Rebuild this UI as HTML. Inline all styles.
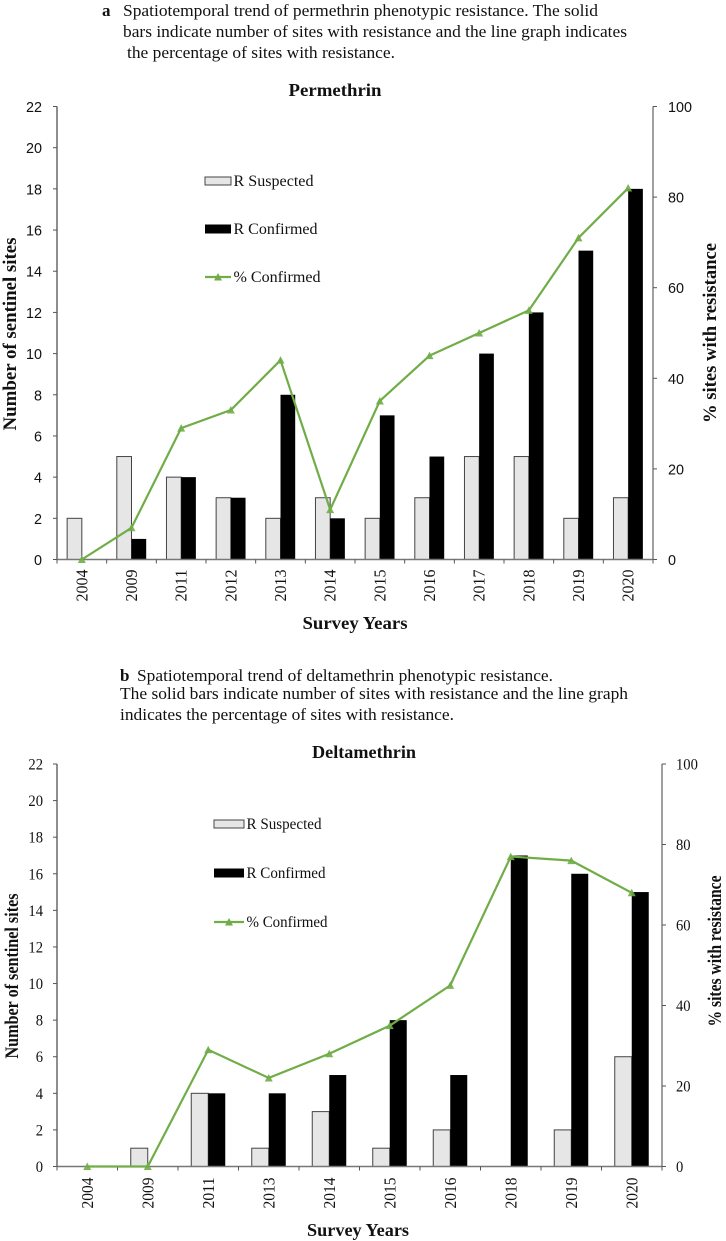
<!DOCTYPE html>
<html>
<head>
<meta charset="utf-8">
<title>Permethrin and deltamethrin resistance trends</title>
<style>
html,body{margin:0;padding:0;background:#fff;}
svg{display:block;}
text{fill:#111;}
.cap{font-family:"Liberation Serif",serif;font-size:17px;}
.capb{font-family:"Liberation Serif",serif;font-size:17px;font-weight:bold;}
</style>
</head>
<body>
<svg id="root" xmlns="http://www.w3.org/2000/svg" width="726" height="1241" viewBox="0 0 726 1241">
<g>
<text class="capb" x="102" y="16">a</text>
<text class="cap" x="123" y="16" textLength="475" lengthAdjust="spacingAndGlyphs">Spatiotemporal trend of permethrin phenotypic resistance. The solid</text>
<text class="cap" x="123" y="37" textLength="504" lengthAdjust="spacingAndGlyphs">bars indicate number of sites with resistance and the line graph indicates</text>
<text class="cap" x="127" y="58" textLength="268" lengthAdjust="spacingAndGlyphs">the percentage of sites with resistance.</text>
</g>
<g>
<text class="capb" x="120" y="681">b</text>
<text class="cap" x="137" y="681" textLength="416" lengthAdjust="spacingAndGlyphs">Spatiotemporal trend of deltamethrin phenotypic resistance.</text>
<text class="cap" x="120" y="699" textLength="508" lengthAdjust="spacingAndGlyphs">The solid bars indicate number of sites with resistance and the line graph</text>
<text class="cap" x="120" y="720" textLength="334" lengthAdjust="spacingAndGlyphs">indicates the percentage of sites with resistance.</text>
</g>
</svg>
<script>
var yearsA = ["2004","2009","2011","2012","2013","2014","2015","2016","2017","2018","2019","2020"];
var suspectedA = [2,5,4,3,2,3,2,3,5,5,2,3];
var confirmedA = [0,1,4,3,8,2,7,5,10,12,15,18];
var percentA = [0,7,29,33,44,11,35,45,50,55,71,82];

var yearsB = ["2004","2009","2011","2013","2014","2015","2016","2018","2019","2020"];
var suspectedB = [0,1,4,1,3,1,2,0,2,6];
var confirmedB = [0,0,4,4,5,8,5,17,16,15];
var percentB = [0,0,29,22,28,35,45,77,76,68];

var leftTicks = [0,2,4,6,8,10,12,14,16,18,20,22];
var rightTicks = [0,20,40,60,80,100];

var NS = "http://www.w3.org/2000/svg";
var root = document.getElementById("root");
var SERIF = '"Liberation Serif",serif';
var SANS = '"Liberation Sans",sans-serif';

function make(parent, tag, attrs, txt) {
  var e = document.createElementNS(NS, tag);
  for (var k in attrs) e.setAttribute(k, attrs[k]);
  if (txt !== undefined) e.textContent = txt;
  parent.appendChild(e);
  return e;
}

function drawChart(c, years, suspected, confirmed, percent) {
  var g = make(root, "g", {});
  
  
  var n = years.length;
  var step = (c.x1 - c.x0) / n;
  function xc(i) { return c.x0 + step * (i + 0.5); }
  function yl(v) { return c.y0 + (c.yT - c.y0) * v / 22; }
  function yr(v) { return c.y0 + (c.yT - c.y0) * v / 100; }

  // bars
  for (var i = 0; i < n; i++) {
    if (suspected[i] > 0) {
      var s = make(g, "rect", {x: xc(i) - c.bw, y: yl(suspected[i]), width: c.bw, height: c.y0 - yl(suspected[i]), fill: "#e6e6e6", stroke: "#444", "stroke-width": 1});
      
      
    }
    if (confirmed[i] > 0) {
      var b = make(g, "rect", {x: xc(i), y: yl(confirmed[i]), width: c.bw, height: c.y0 - yl(confirmed[i]), fill: "#000"});
      
      
    }
  }

  // axes
  var la = make(g, "line", {x1: c.x0, y1: c.yT, x2: c.x0, y2: c.y0, stroke: "#444", "stroke-width": 1.2});
  
  
  var ra = make(g, "line", {x1: c.x1, y1: c.yT, x2: c.x1, y2: c.y0, stroke: "#777", "stroke-width": 1.4});
  
  
  var xa = make(g, "line", {x1: c.x0, y1: c.y0, x2: c.x1, y2: c.y0, stroke: "#777", "stroke-width": 1.4});
  
  

  // left ticks
  leftTicks.forEach(function (v) {
    var label = String(v);
    make(g, "line", {x1: c.x0 - 4, y1: yl(v), x2: c.x0, y2: yl(v), stroke: "#555", "stroke-width": 1});
    var t = make(g, "text", {x: c.lLabelX, y: yl(v) + 5.5, "text-anchor": "end", "font-family": c.tickFont, "font-size": c.tickSize, textLength: label.length * c.digitW, lengthAdjust: "spacingAndGlyphs"}, label);
    
    
  });

  // right ticks
  rightTicks.forEach(function (v) {
    var label = String(v);
    make(g, "line", {x1: c.x1, y1: yr(v), x2: c.x1 + 4, y2: yr(v), stroke: "#555", "stroke-width": 1});
    var t = make(g, "text", {x: c.rLabelX, y: yr(v) + 5.5, "font-family": c.tickFont, "font-size": c.tickSize, textLength: label.length * c.digitW, lengthAdjust: "spacingAndGlyphs"}, label);
    
    
  });

  // x ticks and labels
  for (var j = 0; j <= n; j++) {
    var tx = c.x0 + step * j;
    make(g, "line", {x1: tx, y1: c.y0, x2: tx, y2: c.y0 + 4, stroke: "#555", "stroke-width": 1});
  }
  years.forEach(function (yr_, i) {
    var bx = xc(i) + 5.5, by = c.y0 + 42;
    var t = make(g, "text", {x: bx, y: by, "font-family": SERIF, "font-size": 17, textLength: c.xLabelLen, lengthAdjust: "spacingAndGlyphs", transform: "rotate(-90 " + bx + " " + by + ")"}, yr_);
    
    
  });

  // percent line
  var pts = percent.map(function (v, i) { return xc(i) + "," + yr(v); }).join(" ");
  var pl = make(g, "polyline", {points: pts, fill: "none", stroke: "#70ad47", "stroke-width": 2.2});
  
  
  percent.forEach(function (v, i) {
    var mx = xc(i), my = yr(v);
    var m = make(g, "polygon", {points: (mx - 4) + "," + (my + 3.5) + " " + (mx + 4) + "," + (my + 3.5) + " " + mx + "," + (my - 4), fill: "#70ad47", opacity: 0.9});
    
    
  });

  // titles
  var ti = make(g, "text", {x: c.titleX, y: c.titleY, "text-anchor": "middle", "font-family": SERIF, "font-size": 18, "font-weight": "bold", textLength: c.titleLen, lengthAdjust: "spacingAndGlyphs"}, c.title);
  
  
  var xt = make(g, "text", {x: c.xtX, y: c.xtY, "text-anchor": "middle", "font-family": SERIF, "font-size": 18, "font-weight": "bold", textLength: c.xtLen, lengthAdjust: "spacingAndGlyphs"}, "Survey Years");
  
  
  var yt = make(g, "text", {x: c.ytX, y: c.ytY, "text-anchor": "middle", "font-family": SERIF, "font-size": c.ytSize, "font-weight": "bold", textLength: c.ytLen, lengthAdjust: "spacingAndGlyphs", transform: "rotate(-90 " + c.ytX + " " + c.ytY + ")"}, "Number of sentinel sites");
  
  
  var rt = make(g, "text", {x: c.rtX, y: c.rtY, "text-anchor": "middle", "font-family": SERIF, "font-size": c.ytSize, "font-weight": "bold", textLength: c.rtLen, lengthAdjust: "spacingAndGlyphs", transform: "rotate(-90 " + c.rtX + " " + c.rtY + ")"}, "% sites with resistance");
  
  

  // legend
  var lg = make(g, "g", {});
  
  
  var sw = make(lg, "rect", {x: c.lgX, y: c.lgY1 - 4, width: c.lgW, height: 8, fill: "#e6e6e6", stroke: "#444", "stroke-width": 1});
  
  
  var l1 = make(lg, "text", {x: c.lgX + c.lgW + 2.5, y: c.lgY1 + 5, "font-family": SERIF, "font-size": 16, textLength: c.lgLen1, lengthAdjust: "spacingAndGlyphs"}, "R Suspected");
  
  
  var sw2 = make(lg, "rect", {x: c.lgX, y: c.lgY2 - 4.5, width: c.lgW, height: 9, fill: "#000"});
  
  
  var l2 = make(lg, "text", {x: c.lgX + c.lgW + 2.5, y: c.lgY2 + 5, "font-family": SERIF, "font-size": 16, textLength: c.lgLen2, lengthAdjust: "spacingAndGlyphs"}, "R Confirmed");
  
  
  var sw3 = make(lg, "line", {x1: c.lgX, y1: c.lgY3, x2: c.lgX + c.lgW, y2: c.lgY3, stroke: "#70ad47", "stroke-width": 2.2});
  
  
  var mid = c.lgX + c.lgW / 2;
  make(lg, "polygon", {points: (mid - 4) + "," + (c.lgY3 + 3.5) + " " + (mid + 4) + "," + (c.lgY3 + 3.5) + " " + mid + "," + (c.lgY3 - 4), fill: "#70ad47"});
  var l3 = make(lg, "text", {x: c.lgX + c.lgW + 2.5, y: c.lgY3 + 5, "font-family": SERIF, "font-size": 16, textLength: c.lgLen3, lengthAdjust: "spacingAndGlyphs"}, "% Confirmed");
  
  
}

drawChart({
  id: "permethrin", title: "Permethrin", x0: 57, x1: 653, yT: 106.5, y0: 559.5, bw: 14.7,
  tickFont: SANS, tickSize: 15, digitW: 8, lLabelX: 42, rLabelX: 668, xLabelLen: 32,
  titleX: 335, titleY: 96, titleLen: 93, xtX: 355, xtY: 629, xtLen: 105,
  ytX: 16, ytY: 334, ytLen: 193, ytSize: 19, rtX: 716, rtY: 333, rtLen: 180,
  lgX: 205, lgW: 26, lgY1: 181, lgY2: 229, lgY3: 277, lgLen1: 80, lgLen2: 84, lgLen3: 87
}, yearsA, suspectedA, confirmedA, percentA);

drawChart({
  id: "deltamethrin", title: "Deltamethrin", x0: 57, x1: 662, yT: 764, y0: 1166.5, bw: 17,
  tickFont: SERIF, tickSize: 16, digitW: 7.3, lLabelX: 43, rLabelX: 676, xLabelLen: 31,
  titleX: 364, titleY: 758, titleLen: 104, xtX: 358, xtY: 1236, xtLen: 102,
  ytX: 18, ytY: 976, ytLen: 165, ytSize: 19, rtX: 721, rtY: 951, rtLen: 151,
  lgX: 214, lgW: 30, lgY1: 824, lgY2: 873, lgY3: 922, lgLen1: 75, lgLen2: 79, lgLen3: 81
}, yearsB, suspectedB, confirmedB, percentB);
</script>
</body>
</html>
